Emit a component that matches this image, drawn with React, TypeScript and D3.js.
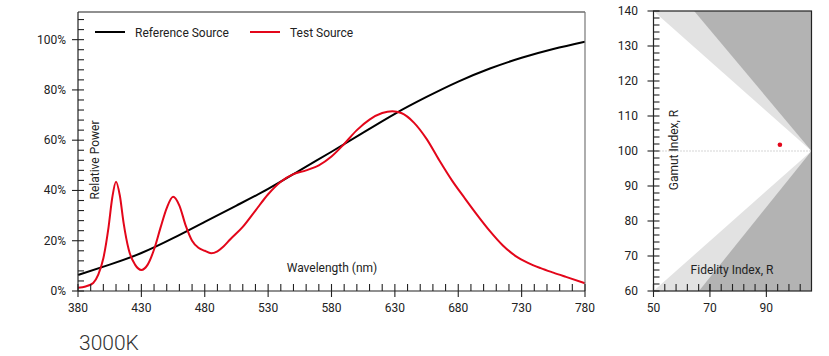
import React from "react";
import * as d3 from "d3";

// ---------- data ----------
const refWavelengths = [380, 405, 430, 455, 480, 505, 530, 555, 580, 605, 630, 655, 680, 705, 730, 755, 780];
const refValues = [6.4, 10.5, 15.1, 21, 27.5, 34, 40.6, 48, 55.4, 63, 70.5, 77.2, 83.3, 88.5, 92.8, 96.3, 99.2];

const testWavelengths = [380, 386, 392, 396, 400, 404, 407, 410, 413, 416, 420, 425, 430, 435, 440, 445, 450, 455, 460, 465, 470, 475, 480, 485, 490, 495, 500, 510, 520, 530, 540, 550, 560, 570, 580, 590, 600, 610, 620, 628, 635, 645, 655, 665, 675, 685, 695, 705, 715, 725, 735, 745, 755, 765, 780];
const testValues = [1.3, 1.8, 3.2, 6.5, 13, 25, 37, 43.5, 38, 27, 16.5, 10.5, 8.4, 10.5, 16.5, 25, 33, 37.5, 34, 26, 20, 17.2, 16, 15, 15.8, 17.8, 20.5, 25.5, 32, 38.5, 43.5, 46.5, 48, 50, 53.5, 58.5, 64, 68.2, 70.8, 71.5, 70.8, 67, 60.5, 52, 44, 37, 30.2, 23.8, 18.2, 14, 11.2, 9.1, 7.3, 5.6, 3.1];

const xTickLabels = [380, 430, 480, 530, 580, 630, 680, 730, 780];
const yTickLabels = [0, 20, 40, 60, 80, 100];

const legendLabels = ["Reference Source", "Test Source"];
const cctLabel = "3000K";

// Fidelity / gamut chart
const fidelityTicks = [50, 70, 90];
const gamutTicks = [60, 70, 80, 90, 100, 110, 120, 130, 140];
const upperLight = [[50, 140], [106, 140], [106, 100]];
const upperDark = [[64.4, 140], [106, 140], [106, 100]];
const lowerLight = [[50, 60], [106, 60], [106, 100]];
const lowerDark = [[66.1, 60], [106, 60], [106, 100]];
const testRf = 94.8;
const testRg = 101.8;

const FONT = "Roboto, 'Noto Sans', sans-serif";
const RED = "#e3061a";

export default function App() {
  // left chart scales
  const x = d3.scaleLinear().domain([380, 780]).range([78, 585]);
  const y = d3.scaleLinear().domain([0, 111]).range([291, 12]);

  const refPath = d3
    .line<[number, number]>()
    .x((d) => x(d[0]))
    .y((d) => y(d[1]))
    .curve(d3.curveNatural)(refWavelengths.map((w, i) => [w, refValues[i]]) as [number, number][]);
  const testPath = d3
    .line<[number, number]>()
    .x((d) => x(d[0]))
    .y((d) => y(d[1]))
    .curve(d3.curveMonotoneX)(testWavelengths.map((w, i) => [w, testValues[i]]) as [number, number][]);

  const xMinor = d3.range(380, 781, 10);
  const yMinor = d3.range(0, 109, 4);

  // right chart scales
  const fx = d3.scaleLinear().domain([50, 106]).range([653.5, 811.5]);
  const fy = d3.scaleLinear().domain([60, 140]).range([291, 11]);
  const poly = (pts: number[][]) => pts.map((p) => `${fx(p[0])},${fy(p[1])}`).join(" ");
  const fxMinor = d3.range(50, 103, 4);
  const fyMinor = d3.range(60, 141, 2);

  const x0 = x.range()[0];
  const x1 = x.range()[1];
  const y0 = y.range()[0];
  const yTop = y.range()[1];

  const fx0 = fx.range()[0];
  const fx1 = fx.range()[1];
  const fy0 = fy.range()[0];
  const fyTop = fy.range()[1];

  return (
    <svg
      width={829}
      height={356}
      style={{ position: "absolute", left: 0, top: 0, background: "#fff" }}
      fontFamily={FONT}
    >
      {/* ---------- left chart ---------- */}
      <path d={refPath || ""} fill="none" stroke="#000" strokeWidth={2} />
      <path d={testPath || ""} fill="none" stroke={RED} strokeWidth={2} />

      {/* frame */}
      <line x1={x0} x2={x1} y1={yTop} y2={yTop} stroke="#222" strokeWidth={1.2} />
      <line x1={x1} x2={x1} y1={yTop} y2={y0} stroke="#777" strokeWidth={1.2} />
      <line x1={x0} x2={x0} y1={yTop} y2={y0} stroke="#222" strokeWidth={1.2} />
      <line x1={x0} x2={x1} y1={y0} y2={y0} stroke="#222" strokeWidth={1.2} />

      {/* x ticks */}
      {xMinor.map((t) => {
        const major = xTickLabels.includes(t);
        return (
          <line key={"xm" + t} x1={x(t)} x2={x(t)} y1={y0 - 7} y2={major ? y0 + 6 : y0} stroke="#222" strokeWidth={1.1} />
        );
      })}
      {xTickLabels.map((t) => (
        <text key={"xl" + t} x={x(t)} y={312} fontSize={12} textAnchor="middle" fill="#222">
          {t}
        </text>
      ))}

      {/* y ticks */}
      {yMinor.map((t) => {
        const major = yTickLabels.includes(t);
        return (
          <line key={"ym" + t} x1={major ? x0 - 6 : x0} x2={x0 + 6} y1={y(t)} y2={y(t)} stroke="#222" strokeWidth={1.1} />
        );
      })}
      {yTickLabels.map((t) => (
        <text key={"yl" + t} x={66} y={y(t) + 4} fontSize={12} textAnchor="end" fill="#222">
          {t}%
        </text>
      ))}

      {/* axis titles */}
      <text x={332} y={272} fontSize={12} textAnchor="middle" fill="#222">
        Wavelength (nm)
      </text>
      <text transform="translate(99,160) rotate(-90)" fontSize={12} textAnchor="middle" fill="#222">
        Relative Power
      </text>

      {/* legend */}
      <line x1={95} x2={125} y1={32} y2={32} stroke="#000" strokeWidth={2} />
      <text x={135} y={36.5} fontSize={12} fill="#222">
        {legendLabels[0]}
      </text>
      <line x1={250} x2={280} y1={32} y2={32} stroke={RED} strokeWidth={2} />
      <text x={290} y={36.5} fontSize={12} fill="#222">
        {legendLabels[1]}
      </text>

      {/* CCT */}
      <text x={79} y={350} fontSize={21} fontWeight={300} fill="#333">
        {cctLabel}
      </text>

      {/* ---------- right chart ---------- */}
      <polygon points={poly(upperLight)} fill="#e2e2e2" />
      <polygon points={poly(upperDark)} fill="#b3b3b3" />
      <polygon points={poly(lowerLight)} fill="#e2e2e2" />
      <polygon points={poly(lowerDark)} fill="#b3b3b3" />

      <line x1={fx0} x2={fx1} y1={fy(100)} y2={fy(100)} stroke="#aaa" strokeWidth={1} strokeDasharray="1,2" />
      <circle cx={fx(testRf)} cy={fy(testRg)} r={2.3} fill={RED} />

      {/* frame */}
      <rect x={fx0} y={fyTop} width={fx1 - fx0} height={fy0 - fyTop} fill="none" stroke="#222" strokeWidth={1.2} />

      {/* x ticks */}
      {fxMinor.map((t) => (
        <line key={"fxm" + t} x1={fx(t)} x2={fx(t)} y1={fy0 - 7} y2={fy0} stroke="#222" strokeWidth={1.1} />
      ))}
      {fidelityTicks.map((t) => (
        <g key={"fxl" + t}>
          <line x1={fx(t)} x2={fx(t)} y1={fy0 - 7} y2={fy0 + 6} stroke="#222" strokeWidth={1.1} />
          <text x={fx(t)} y={312} fontSize={12} textAnchor="middle" fill="#222">
            {t}
          </text>
        </g>
      ))}

      {/* y ticks */}
      {fyMinor.map((t) => {
        const major = gamutTicks.includes(t);
        return (
          <line key={"fym" + t} x1={major ? fx0 - 6 : fx0} x2={fx0 + 6} y1={fy(t)} y2={fy(t)} stroke="#222" strokeWidth={1.1} />
        );
      })}
      {gamutTicks.map((t) => (
        <text key={"fyl" + t} x={638} y={fy(t) + 4} fontSize={12} textAnchor="end" fill="#222">
          {t}
        </text>
      ))}

      <text x={732} y={274} fontSize={12} textAnchor="middle" fill="#222">
        Fidelity Index, R
      </text>
      <text transform="translate(678,150) rotate(-90)" fontSize={12} textAnchor="middle" fill="#222">
        Gamut Index, R
      </text>
    </svg>
  );
}
